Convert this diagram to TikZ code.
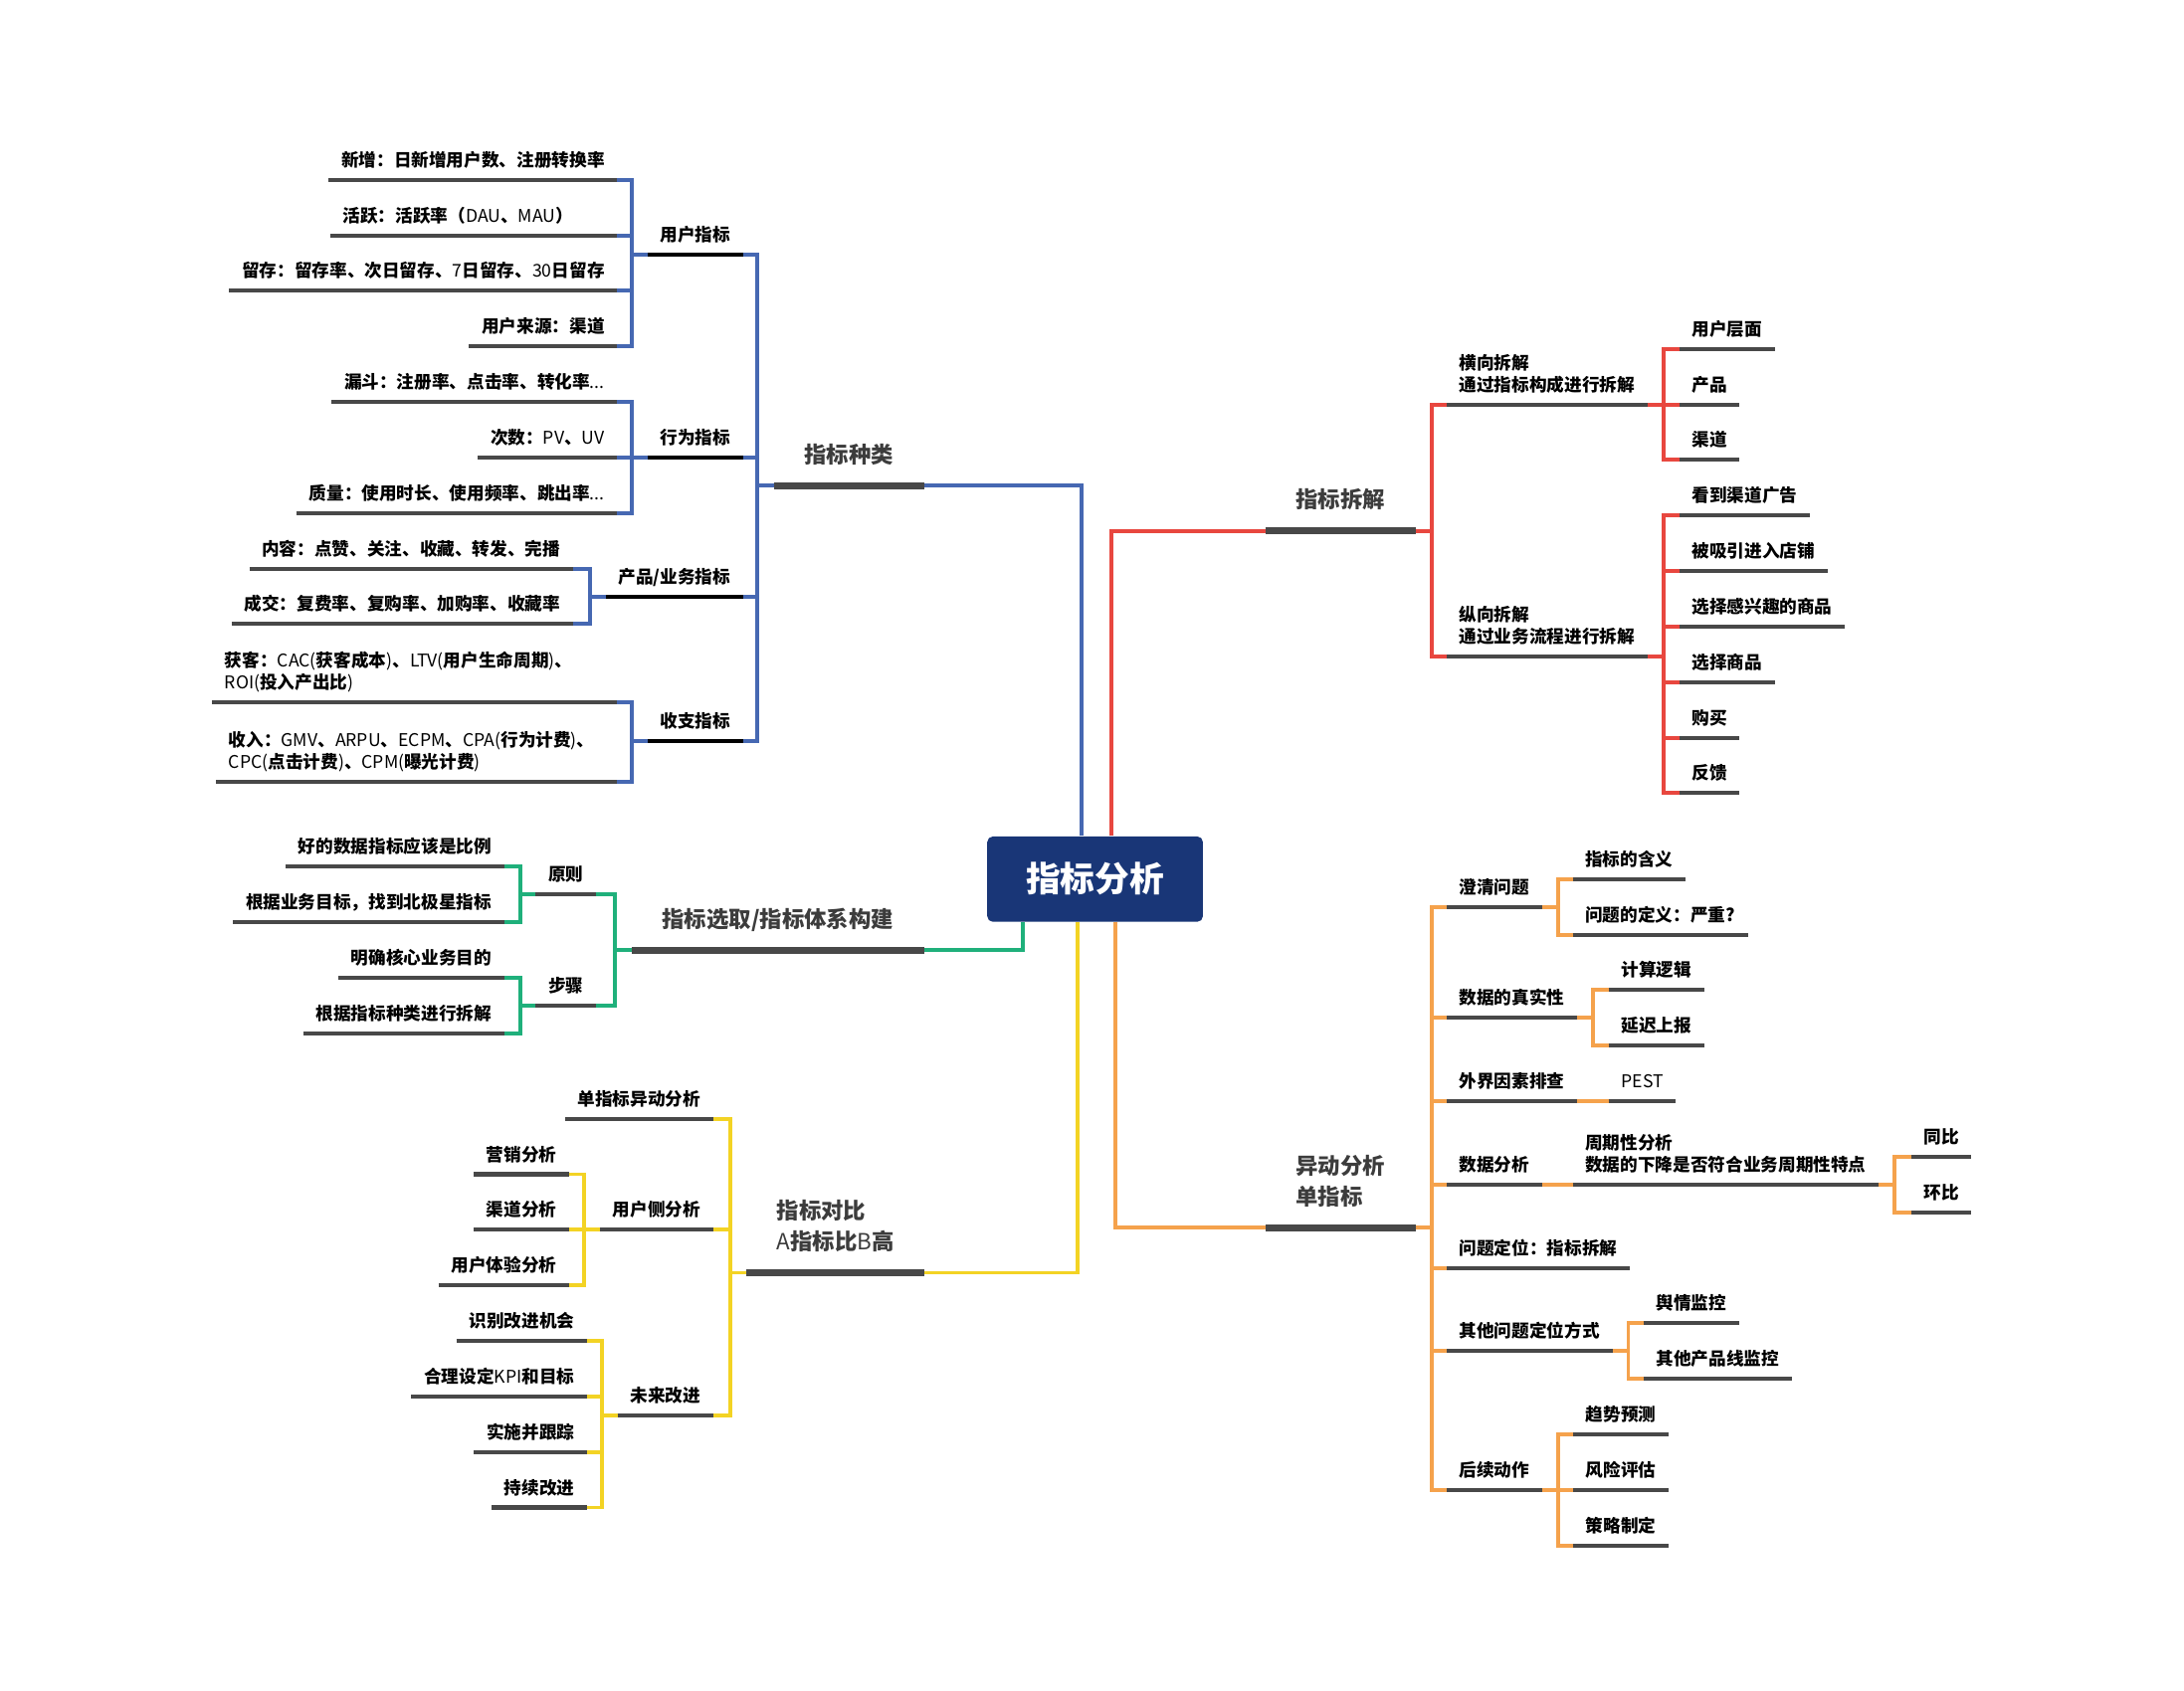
\documentclass[tikz,border=0pt]{standalone}
\usepackage{fontspec}
\setmainfont{Noto Sans CJK SC}
\usetikzlibrary{calc}
\newcommand\lgt[1]{{\mdseries #1}}
\newcommand\twol[2]{\begin{tabular}[b]{@{}l@{}}#1\\#2\end{tabular}}
\definecolor{cblue}{HTML}{4668B2}
\definecolor{cred}{HTML}{E8473F}
\definecolor{cgreen}{HTML}{1FB07B}
\definecolor{cyellow}{HTML}{F3D324}
\definecolor{corange}{HTML}{F5A24C}
\definecolor{bargray}{HTML}{484848}
\definecolor{navy}{HTML}{193677}
\definecolor{lvltext}{HTML}{3C3C3C}
\tikzset{
  lf/.style={font=\bfseries\fontsize{6.3}{7.75}\selectfont, inner xsep=4.35pt, inner ysep=0pt, text depth=4.6pt},
  lone/.style={font=\bfseries\fontsize{8}{11}\selectfont, text=lvltext, inner xsep=10.75pt, inner ysep=0pt, text depth=8pt},
  ctrbox/.style={fill=navy, rounded corners=2pt, minimum width=77.4pt, minimum height=30.65pt, text=white, font=\bfseries\fontsize{12.4}{14}\selectfont, inner sep=0pt},
  bar/.style={draw=bargray, line width=1.45pt},
  barb/.style={draw=black, line width=1.45pt},
  bigbar/.style={draw=bargray, line width=2.4pt},
  cb/.style={draw=cblue, line width=1.4pt},
  cr/.style={draw=cred, line width=1.4pt},
  cg/.style={draw=cgreen, line width=1.4pt},
  cy/.style={draw=cyellow, line width=1.4pt},
  co/.style={draw=corange, line width=1.4pt},
}
\begin{document}
\begin{tikzpicture}[x=0.5pt,y=-0.5pt]
\useasboundingbox (0,0) rectangle (1568,1214.3);

% center
\node[ctrbox] (ctr) at (786.2,631.35) {指标分析};

% level 1
\node[lone, anchor=south east] (zb) at (663.4,348.8) {指标种类};
\node[lone, anchor=south east] (zx) at (663.4,682.4) {指标选取/指标体系构建};
\node[lone, anchor=south east] (zd) at (663.9,914) {\twol{指标对比}{\lgt{A}指标比\lgt{B}高}};
\node[lone, anchor=south west] (cj) at (908.6,381.2) {指标拆解};
\node[lone, anchor=south west] (yd) at (908.6,881.7) {\twol{异动分析}{单指标}};

% ---------- blue ----------
\node[lf, anchor=south east] (b1) at (533.6,182.6) {用户指标};
\node[lf, anchor=south east] (b2) at (533.6,328.6) {行为指标};
\node[lf, anchor=south east] (b3) at (533.6,428.6) {产品/业务指标};
\node[lf, anchor=south east] (b4) at (533.6,532.4) {收支指标};

\node[lf, anchor=south east] (b11) at (443.2,129.3) {新增：日新增用户数、注册转换率};
\node[lf, anchor=south west] (b12) at (237.1,169) {活跃：活跃率（\lgt{DAU}、\lgt{MAU}）};
\coordinate (b12e) at (443.2,169);
\node[lf, anchor=south east] (b13) at (443.2,208.8) {留存：留存率、次日留存、\lgt{7}日留存、\lgt{30}日留存};
\node[lf, anchor=south east] (b14) at (443.2,248.8) {用户来源：渠道};
\node[lf, anchor=south east] (b21) at (443.2,288.6) {漏斗：注册率、点击率、转化率\lgt{...}};
\node[lf, anchor=south east] (b22) at (443.2,328.6) {次数：\lgt{PV}、\lgt{UV}};
\node[lf, anchor=south east] (b23) at (443.2,368.6) {质量：使用时长、使用频率、跳出率\lgt{...}};
\node[lf, anchor=south east] (b31) at (411.4,408.3) {内容：点赞、关注、收藏、转发、完播};
\node[lf, anchor=south east] (b32) at (411.4,448.1) {成交：复费率、复购率、加购率、收藏率};
\node[lf, anchor=south west] (b41) at (152.3,504.3) {\twol{获客：\lgt{CAC(}获客成本\lgt{)}、\lgt{LTV(}用户生命周期\lgt{)}、}{\lgt{ROI(}投入产出比\lgt{)}}};
\coordinate (b41e) at (443.2,504.3);
\node[lf, anchor=south west] (b42) at (155.1,561.2) {\twol{收入：\lgt{GMV}、\lgt{ARPU}、\lgt{ECPM}、\lgt{CPA(}行为计费\lgt{)}、}{\lgt{CPC(}点击计费\lgt{)}、\lgt{CPM(}曝光计费\lgt{)}}};
\coordinate (b42e) at (443.2,561.2);

% ---------- green ----------
\node[lf, anchor=south east] (g1) at (428,642.1) {原则};
\node[lf, anchor=south east] (g2) at (428,721.9) {步骤};
\node[lf, anchor=south east] (g11) at (362,622.1) {好的数据指标应该是比例};
\node[lf, anchor=south east] (g12) at (362,662.4) {根据业务目标，找到北极星指标};
\node[lf, anchor=south east] (g21) at (362,702.4) {明确核心业务目的};
\node[lf, anchor=south east] (g22) at (362,742.1) {根据指标种类进行拆解};

% ---------- yellow ----------
\node[lf, anchor=south east] (y1) at (512,803.6) {单指标异动分析};
\node[lf, anchor=south east] (y2) at (512,882.9) {用户侧分析};
\node[lf, anchor=south east] (y3) at (512,1016.7) {未来改进};
\node[lf, anchor=south east] (y21) at (408.7,843.3) {营销分析};
\node[lf, anchor=south east] (y22) at (408.7,882.9) {渠道分析};
\node[lf, anchor=south east] (y23) at (408.7,922.9) {用户体验分析};
\node[lf, anchor=south east] (y31) at (421.5,963.1) {识别改进机会};
\node[lf, anchor=south east] (y32) at (421.5,1002.9) {合理设定\lgt{KPI}和目标};
\node[lf, anchor=south east] (y33) at (421.5,1042.9) {实施并跟踪};
\node[lf, anchor=south east] (y34) at (421.5,1082.6) {持续改进};

% ---------- red ----------
\node[lf, anchor=south west] (r1) at (1038.6,290.5) {\twol{横向拆解}{通过指标构成进行拆解}};
\node[lf, anchor=south west] (r2) at (1038.6,471.4) {\twol{纵向拆解}{通过业务流程进行拆解}};
\node[lf, anchor=south west] (r11) at (1205.6,250.7) {用户层面};
\node[lf, anchor=south west] (r12) at (1205.6,290.5) {产品};
\node[lf, anchor=south west] (r13) at (1205.6,330.2) {渠道};
\node[lf, anchor=south west] (r21) at (1205.6,370.2) {看到渠道广告};
\node[lf, anchor=south west] (r22) at (1205.6,410) {被吸引进入店铺};
\node[lf, anchor=south west] (r23) at (1205.6,450) {选择感兴趣的商品};
\node[lf, anchor=south west] (r24) at (1205.6,490) {选择商品};
\node[lf, anchor=south west] (r25) at (1205.6,529.8) {购买};
\node[lf, anchor=south west] (r26) at (1205.6,569.5) {反馈};

% ---------- orange ----------
\node[lf, anchor=south west] (o1) at (1038.6,651.2) {澄清问题};
\node[lf, anchor=south west] (o2) at (1038.6,731) {数据的真实性};
\node[lf, anchor=south west] (o3) at (1038.6,791) {外界因素排查};
\node[lf, anchor=south west] (o4) at (1038.6,850.7) {数据分析};
\node[lf, anchor=south west] (o5) at (1038.6,910.7) {问题定位：指标拆解};
\node[lf, anchor=south west] (o6) at (1038.6,970) {其他问题定位方式};
\node[lf, anchor=south west] (o7) at (1038.6,1070.2) {后续动作};
\node[lf, anchor=south west] (o11) at (1129.1,631.4) {指标的含义};
\node[lf, anchor=south west] (o12) at (1129.1,671.2) {问题的定义：严重?};
\node[lf, anchor=south west] (o21) at (1154.9,711) {计算逻辑};
\node[lf, anchor=south west] (o22) at (1154.9,750.7) {延迟上报};
\node[lf, anchor=south west] (o31) at (1154.9,791) {\lgt{PEST}};
\node[lf, anchor=south west] (o41) at (1129.1,850.7) {\twol{周期性分析}{数据的下降是否符合业务周期性特点}};
\node[lf, anchor=south west] (o411) at (1372,831) {同比};
\node[lf, anchor=south west] (o412) at (1372,871) {环比};
\node[lf, anchor=south west] (o61) at (1180,950.2) {舆情监控};
\node[lf, anchor=south west] (o62) at (1180,990.2) {其他产品线监控};
\node[lf, anchor=south west] (o71) at (1129.4,1030.2) {趋势预测};
\node[lf, anchor=south west] (o72) at (1129.4,1070.2) {风险评估};
\node[lf, anchor=south west] (o73) at (1129.4,1110.2) {策略制定};

% ---------- connectors ----------
\draw[cb] ($(ctr.north)+(-10,0)$) |- (zb.south east);
\draw[cr] ($(ctr.north)+(11.4,0)$) |- (cj.south west);
\draw[cg] ($(ctr.south)+(-51.7,0)$) |- (zx.south east);
\draw[cy] ($(ctr.south)+(-12.4,0)$) |- (zd.south east);
\draw[co] ($(ctr.south)+(14.8,0)$) |- (yd.south west);

\foreach \c in {b1,b2,b3,b4} \draw[cb] (zb.south west) -- ++(-11.8,0) |- (\c.south east);
\foreach \c in {b11,b13,b14} \draw[cb] (b1.south west) -- ++(-11.2,0) |- (\c.south east);
\draw[cb] (b1.south west) -- ++(-11.2,0) |- (b12e);
\foreach \c in {b21,b22,b23} \draw[cb] (b2.south west) -- ++(-11.2,0) |- (\c.south east);
\foreach \c in {b31,b32} \draw[cb] (b3.south west) -- ++(-11.2,0) |- (\c.south east);
\draw[cb] (b4.south west) -- ++(-11.2,0) |- (b41e);
\draw[cb] (b4.south west) -- ++(-11.2,0) |- (b42e);

\foreach \c in {g1,g2} \draw[cg] (zx.south west) -- ++(-11.9,0) |- (\c.south east);
\foreach \c in {g11,g12} \draw[cg] (g1.south west) -- ++(-11.3,0) |- (\c.south east);
\foreach \c in {g21,g22} \draw[cg] (g2.south west) -- ++(-11.3,0) |- (\c.south east);

\foreach \c in {y1,y2,y3} \draw[cy] (zd.south west) -- ++(-11.5,0) |- (\c.south east);
\foreach \c in {y21,y22,y23} \draw[cy] (y2.south west) -- ++(-11.4,0) |- (\c.south east);
\foreach \c in {y31,y32,y33,y34} \draw[cy] (y3.south west) -- ++(-11.4,0) |- (\c.south east);

\foreach \c in {r1,r2} \draw[cr] (cj.south east) -- ++(11.4,0) |- (\c.south west);
\foreach \c in {r11,r12,r13} \draw[cr] (r1.south east) -- ++(11.4,0) |- (\c.south west);
\foreach \c in {r21,r22,r23,r24,r25,r26} \draw[cr] (r2.south east) -- ++(11.4,0) |- (\c.south west);

\foreach \c in {o1,o2,o3,o4,o5,o6,o7} \draw[co] (yd.south east) -- ++(11.8,0) |- (\c.south west);
\foreach \c in {o11,o12} \draw[co] (o1.south east) -- ++(11.4,0) |- (\c.south west);
\foreach \c in {o21,o22} \draw[co] (o2.south east) -- ++(11.4,0) |- (\c.south west);
\draw[co] (o3.south east) -- (o31.south west);
\draw[co] (o4.south east) -- (o41.south west);
\foreach \c in {o411,o412} \draw[co] (o41.south east) -- ++(11.5,0) |- (\c.south west);
\foreach \c in {o61,o62} \draw[co] (o6.south east) -- ++(11.4,0) |- (\c.south west);
\foreach \c in {o71,o72,o73} \draw[co] (o7.south east) -- ++(11.4,0) |- (\c.south west);

% ---------- bars ----------
\foreach \n in {zb,zx,zd,cj,yd} \draw[bigbar] (\n.south west) -- (\n.south east);
\foreach \n in {b1,b2,b3,b4} \draw[barb] (\n.south west) -- (\n.south east);
\foreach \n in {b11,b13,b14,b21,b22,b23,b31,b32,g1,g2,g11,g12,g21,g22,y1,y2,y3,y21,y22,y23,y31,y32,y33,y34,r1,r2,r11,r12,r13,r21,r22,r23,r24,r25,r26,o1,o2,o3,o4,o5,o6,o7,o11,o12,o21,o22,o31,o41,o411,o412,o61,o62,o71,o72,o73}
  \draw[bar] (\n.south west) -- (\n.south east);
\draw[bar] (b12.south west) -- (b12e);
\draw[bar] (b41.south west) -- (b41e);
\draw[bar] (b42.south west) -- (b42e);
\end{tikzpicture}
\end{document}
